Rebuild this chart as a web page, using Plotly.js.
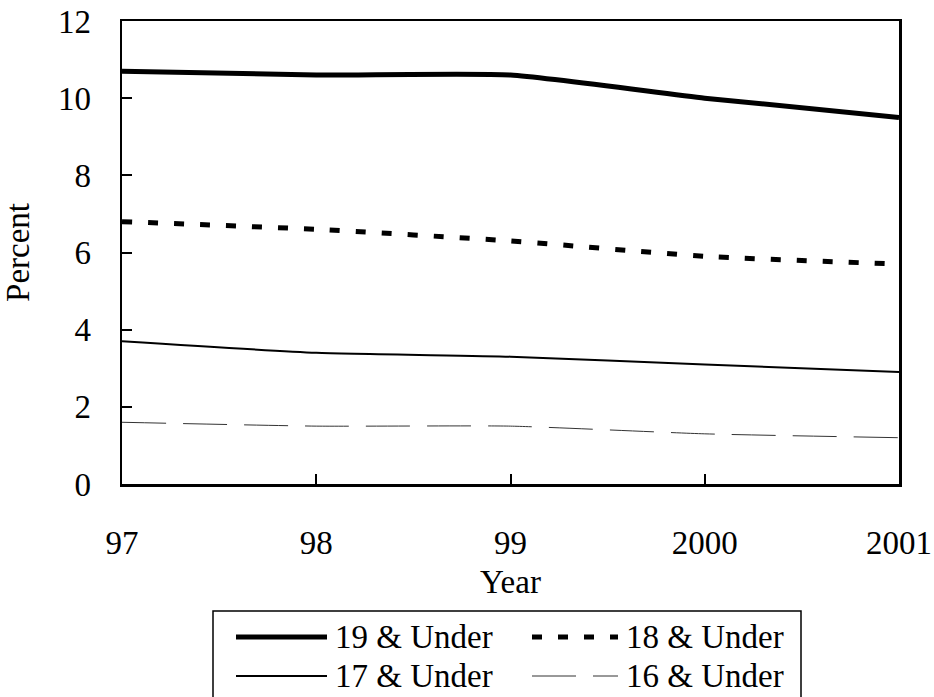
<!DOCTYPE html>
<html>
<head>
<meta charset="utf-8">
<script src="https://cdn.plot.ly/plotly-3.0.1.min.js"></script>
<style>html,body{margin:0;padding:0;background:#fff;}#chart{width:934px;height:697px;}</style>
</head>
<body>
<div id="chart"></div>
<script>
const years = ["97", "98", "99", "2000", "2001"];
const under19 = [10.7, 10.6, 10.6, 10.0, 9.5];
const under18 = [6.8, 6.6, 6.3, 5.9, 5.7];
const under17 = [3.7, 3.4, 3.3, 3.1, 2.9];
const under16 = [1.6, 1.5, 1.5, 1.3, 1.2];
const seriesNames = ["19 & Under", "18 & Under", "17 & Under", "16 & Under"];

function fnt(size) {
  return {family: "Liberation Serif", size: size, color: "#000"};
}

const styles = [
  {color: "#000", width: 5},
  {color: "#000", width: 5, dash: "10px,16px"},
  {color: "#000", width: 2},
  {color: "#333", width: 1, dash: "44px,17px"}
];
const seriesData = [under19, under18, under17, under16];

const traces = seriesData.map((ys, i) => ({
  x: years, y: ys, name: seriesNames[i], mode: "lines", showlegend: false,
  line: Object.assign({shape: "spline", smoothing: 0.5}, styles[i])
}));

// plot area in pixels
const M = {l: 122, r: 35, t: 21, b: 213};
const W = 934, H = 697;
const pw = W - M.l - M.r, ph = H - M.t - M.b;
const px = x => (x - M.l) / pw;
const py = y => (H - M.b - y) / ph;

// hand-made legend (long line samples like the original)
const legendBox = {x0: 213, x1: 801, y0: 611, y1: 700};
const legendCells = [
  {x0: 236, x1: 327, y: 637}, {x0: 532, x1: 618, y: 637},
  {x0: 236, x1: 327, y: 676}, {x0: 532, x1: 618, y: 676}
];
const shapes = [{
  type: "rect", xref: "paper", yref: "paper",
  x0: px(legendBox.x0), x1: px(legendBox.x1), y0: py(legendBox.y1), y1: py(legendBox.y0),
  line: {color: "#000", width: 1.5}, fillcolor: "#fff", layer: "above"
}];
const annotations = [];
legendCells.forEach((c, i) => {
  shapes.push({
    type: "line", xref: "paper", yref: "paper",
    x0: px(c.x0), x1: px(c.x1), y0: py(c.y), y1: py(c.y),
    line: styles[i], layer: "above"
  });
  annotations.push({
    xref: "paper", yref: "paper", x: px(c.x1 + 6), y: py(c.y),
    xanchor: "left", yanchor: "middle", showarrow: false,
    text: seriesNames[i], font: fnt(33)
  });
});

const layout = {
  width: W, height: H,
  margin: M,
  paper_bgcolor: "#fff", plot_bgcolor: "#fff",
  font: fnt(33),
  showlegend: false,
  xaxis: {
    type: "category", range: [0, 4],
    showline: true, linecolor: "#000", linewidth: 2.5, mirror: true,
    ticks: "inside", ticklen: 10, tickwidth: 2, tickcolor: "#000",
    ticklabelstandoff: 28,
    showgrid: false, zeroline: false,
    tickfont: fnt(33),
    title: {text: "Year", font: fnt(33), standoff: 10}
  },
  yaxis: {
    range: [0, 12], dtick: 2,
    showline: true, linecolor: "#000", linewidth: 2.5, mirror: true,
    ticks: "inside", ticklen: 10, tickwidth: 2, tickcolor: "#000",
    ticklabelstandoff: 22,
    showgrid: false, zeroline: false,
    tickfont: fnt(33),
    title: {text: "Percent", font: fnt(33), standoff: 20}
  },
  shapes: shapes,
  annotations: annotations
};

Plotly.newPlot("chart", traces, layout, {displayModeBar: false, staticPlot: true});
</script>
</body>
</html>
